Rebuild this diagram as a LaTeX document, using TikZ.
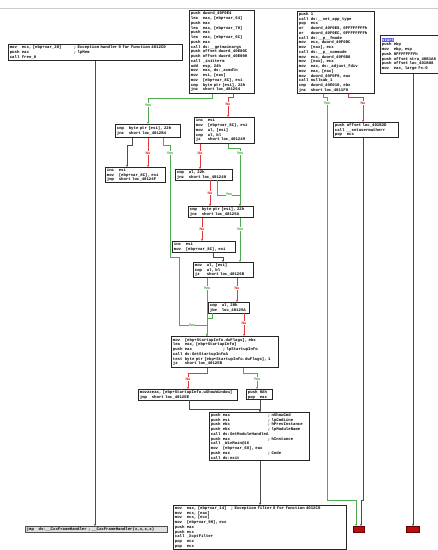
\documentclass[tikz,border=0pt]{standalone}
\usepackage{fontspec}
\setmonofont{Liberation Mono}
\setsansfont{Liberation Sans}
\usetikzlibrary{arrows.meta}
\definecolor{ygreen}{RGB}{80,170,80}
\definecolor{nred}{RGB}{228,55,55}
\definecolor{ygreenT}{RGB}{40,150,40}
\definecolor{nredT}{RGB}{220,25,25}
\definecolor{idablue}{RGB}{90,90,225}
\definecolor{extred}{RGB}{185,15,15}
\newcommand\asmi[2]{\makebox[12pt][l]{#1}#2}
\newcommand\asmk[4]{\makebox[12pt][l]{#1}\makebox[#3][l]{#2}; #4}
\tikzset{
  blk/.style={draw=black!85, line width=0.7pt, fill=white, anchor=north west,
    inner xsep=1.5pt, inner ysep=1pt, align=left,
    font=\ttfamily\bfseries\fontsize{4}{4.75}\selectfont},
  extbox/.style={draw=black!70, line width=0.5pt, fill=black!12, anchor=north west,
    inner xsep=1.5pt, inner ysep=0.5pt, align=left,
    font=\ttfamily\bfseries\fontsize{4}{4.75}\selectfont},
  redbox/.style={draw=black!60!red, line width=0.5pt, fill=extred, anchor=north west,
    inner sep=0pt},
  tip/.style={-{Stealth[length=2.2pt,width=2pt]}},
  gline/.style={draw=ygreen, line width=0.6pt, tip},
  rline/.style={draw=nred, line width=0.6pt, tip},
  kline/.style={draw=black!70, line width=0.6pt, tip},
  ylab/.style={font=\sffamily\bfseries\fontsize{3.6}{3.6}\selectfont, text=ygreenT, fill=white, inner sep=0.3pt},
  nlab/.style={font=\sffamily\bfseries\fontsize{3.6}{3.6}\selectfont, text=nredT, fill=white, inner sep=0.3pt},
}
\begin{document}
\begin{tikzpicture}[x=1pt,y=-1pt]
\useasboundingbox (0,0) rectangle (438,550);
\clip (0,0) rectangle (438,550);
\fill[white] (0,0) rectangle (438,550);
\draw[black!20, line width=0.6pt] (0,8) -- (438,8);

% blocks
\node[blk, text width=171pt, minimum height=16pt] (A) at (8,44) {%
\asmk{mov}{ecx, [ebp+var\_20]}{52pt}{Exception handler 0 for function 4012C0}\\
\asmk{push}{eax}{52pt}{lpMem}\\
\asmi{call}{free\_0}};

\node[blk, text width=62pt, minimum height=83pt] (B) at (189,10) {%
\asmi{push}{dword\_40F0E4}\\
\asmi{lea}{eax, [ebp+var\_64]}\\
\asmi{push}{eax}\\
\asmi{lea}{eax, [ebp+var\_70]}\\
\asmi{push}{eax}\\
\asmi{lea}{eax, [ebp+var\_6C]}\\
\asmi{push}{eax}\\
\asmi{call}{ds:\_\_getmainargs}\\
\asmi{push}{offset dword\_40E00C}\\
\asmi{push}{offset dword\_40E000}\\
\asmi{call}{\_initterm}\\
\asmi{add}{esp, 24h}\\
\asmi{mov}{eax, ds:\_acmdln}\\
\asmi{mov}{esi, [eax]}\\
\asmi{mov}{[ebp+var\_8C], esi}\\
\asmi{cmp}{byte ptr [esi], 22h}\\
\asmi{jnz}{short loc\_401264}};

\node[blk, text width=74pt, minimum height=82pt] (C) at (297,11) {%
\asmi{push}{1}\\
\asmi{call}{ds:\_\_set\_app\_type}\\
\asmi{pop}{ecx}\\
\asmi{or}{dword\_40F0E8, 0FFFFFFFFh}\\
\asmi{or}{dword\_40F0EC, 0FFFFFFFFh}\\
\asmi{call}{ds:\_\_p\_\_fmode}\\
\asmi{mov}{ecx, dword\_40F0DC}\\
\asmi{mov}{[eax], ecx}\\
\asmi{call}{ds:\_\_p\_\_commode}\\
\asmi{mov}{ecx, dword\_40F0D8}\\
\asmi{mov}{[eax], ecx}\\
\asmi{mov}{eax, ds:\_adjust\_fdiv}\\
\asmi{mov}{eax, [eax]}\\
\asmi{mov}{dword\_40F0F0, eax}\\
\asmi{call}{nullsub\_1}\\
\asmi{cmp}{dword\_40E010, ebx}\\
\asmi{jnz}{short loc\_4011F8}};

\node[blk, text width=62pt, minimum height=38pt] (D) at (380,35) {%
{\setlength{\fboxsep}{0.3pt}\colorbox{idablue}{\textcolor{white}{start}}}\\
\asmi{push}{ebp}\\
\asmi{mov}{ebp, esp}\\
\asmi{push}{0FFFFFFFFh}\\
\asmi{push}{offset stru\_40B1A8}\\
\asmi{push}{offset loc\_401B88}\\
\asmi{mov}{eax, large fs:0}};

\node[blk, text width=62pt, minimum height=15pt] (E) at (333,122) {%
\asmi{push}{offset loc\_401B2D}\\
\asmi{call}{\_\_setusermatherr}\\
\asmi{pop}{ecx}};

\node[blk, text width=62pt, minimum height=13pt] (F) at (115,124) {%
\asmi{cmp}{byte ptr [esi], 22h}\\
\asmi{jnz}{short loc\_4012B4}};

\node[blk, text width=57pt, minimum height=26pt] (G) at (194,117) {%
\asmi{inc}{esi}\\
\asmi{mov}{[ebp+var\_8C], esi}\\
\asmi{mov}{al, [esi]}\\
\asmi{cmp}{al, bl}\\
\asmi{jz}{short loc\_401249}};

\node[blk, text width=57pt, minimum height=15pt] (H) at (105,167) {%
\asmi{inc}{esi}\\
\asmi{mov}{[ebp+var\_8C], esi}\\
\asmi{jmp}{short loc\_40124F}};

\node[blk, text width=54pt, minimum height=10.5pt] (I1) at (175,169) {%
\asmi{cmp}{al, 22h}\\
\asmi{jnz}{short loc\_401240}};

\node[blk, text width=62pt, minimum height=11pt] (I2) at (188,206) {%
\asmi{cmp}{byte ptr [esi], 22h}\\
\asmi{jnz}{short loc\_40125A}};

\node[blk, text width=60pt, minimum height=11pt] (J1) at (172,241) {%
\asmi{inc}{esi}\\
\asmi{mov}{[ebp+var\_8C], esi}};

\node[blk, text width=57pt, minimum height=15pt] (J2) at (193,262) {%
\asmi{mov}{al, [esi]}\\
\asmi{cmp}{al, bl}\\
\asmi{jz}{short loc\_40126B}};

\node[blk, text width=38pt, minimum height=10.5pt] (J3) at (208,302) {%
\asmi{cmp}{al, 20h}\\
\asmi{jbe}{loc\_40125A}};

\node[blk, text width=104pt, minimum height=31pt] (K) at (171,336) {%
\asmi{mov}{[ebp+StartupInfo.dwFlags], ebx}\\
\asmi{lea}{eax, [ebp+StartupInfo]}\\
\asmk{push}{eax}{38pt}{lpStartupInfo}\\
\asmi{call}{ds:GetStartupInfoA}\\
\asmi{test}{byte ptr [ebp+StartupInfo.dwFlags], 1}\\
\asmi{jz}{short loc\_4012EB}};

\node[blk, text width=96pt, minimum height=10pt] (L1) at (138,389) {%
\asmi{movzx}{eax, [ebp+StartupInfo.wShowWindow]}\\
\asmi{jmp}{short loc\_4012EE}};

\node[blk, text width=23pt, minimum height=10pt] (L2) at (246,389) {%
\asmi{push}{0Ah}\\
\asmi{pop}{eax}};

\node[blk, text width=97pt, minimum height=48pt] (M) at (209,412) {%
\asmk{push}{eax}{45pt}{nShowCmd}\\
\asmk{push}{esi}{45pt}{lpCmdLine}\\
\asmk{push}{ebx}{45pt}{hPrevInstance}\\
\asmk{push}{ebx}{45pt}{lpModuleName}\\
\asmi{call}{ds:GetModuleHandleA}\\
\asmk{push}{eax}{45pt}{hInstance}\\
\asmi{call}{\_WinMain@16}\\
\asmi{mov}{[ebp+var\_68], eax}\\
\asmk{push}{eax}{45pt}{Code}\\
\asmi{call}{ds:exit}};

\node[blk, text width=170pt, minimum height=44pt] (N) at (173,505) {%
\asmk{mov}{eax, [ebp+var\_14]}{44pt}{Exception filter 0 for function 4012C0}\\
\asmi{mov}{ecx, [eax]}\\
\asmi{mov}{ecx, [ecx]}\\
\asmi{mov}{[ebp+var\_90], ecx}\\
\asmi{push}{eax}\\
\asmi{push}{ecx}\\
\asmi{call}{\_XcptFilter}\\
\asmi{pop}{ecx}\\
\asmi{pop}{ecx}};

\node[extbox, text width=139pt, minimum height=6pt] (P) at (25,526) {%
\asmi{jmp}{ds:\_\_CxxFrameHandler ; \_\_CxxFrameHandler(x,x,x,x)}};

\node[redbox, minimum width=11pt, minimum height=6pt] (R1) at (353,526) {};
\node[redbox, minimum width=13pt, minimum height=6pt] (R2) at (406,526) {};

\coordinate (c1) at (327,500);
\coordinate (c2) at (363,500);

% connectors
\draw[kline] ([xshift=87pt]A.south west) -| ([xshift=70pt]P.north west);
\draw[gline] ([xshift=23pt]B.south west) -- ++(0,5) -| ([xshift=33pt]F.north west);
\draw[rline] ([xshift=44pt]B.south west) -- ++(0,4) -| ([xshift=34pt]G.north west);
\draw[gline] ([xshift=26pt]C.south west) -- ++(0,4) -| (c1) -| ([xshift=3pt]R1.north west);
\draw[rline] ([xshift=51pt]C.south west) -- ++(0,4) -| ([xshift=30pt]E.north west);
\draw[kline] ([xshift=30pt]E.south west) -- (c2) -| ([xshift=8pt]R1.north west);
\draw[kline] ([xshift=33pt]D.south west) -| ([xshift=7pt]R2.north west);

\draw[kline] ([xshift=17pt]F.south west) -- ++(0,8) -| ([xshift=22pt]H.north west);
\draw[rline] ([xshift=33pt]F.south west) -| ([xshift=43pt]H.north west);
\draw[gline] ([xshift=48pt]F.south west) -- ++(0,8) -- ++(7,0) -- ++(0,112) -- ++(9,0) -- ++(0,68) -| ([xshift=36pt]K.north west);

\draw[rline] ([xshift=6pt]G.south west) -| ([xshift=25pt]I1.north west);
\draw[gline] ([xshift=34pt]G.south west) -- ++(0,5) -| ([xshift=52pt]I2.north west);
\draw[rline] ([xshift=35pt]I1.south west) -| ([xshift=22pt]I2.north west);
\draw[gline] ([xshift=42pt]I1.south west) -- ++(0,15) -| ([xshift=52pt]I2.north west);

\draw[rline] ([xshift=14pt]I2.south west) -| ([xshift=30pt]J1.north west);
\draw[gline] ([xshift=52pt]I2.south west) -| ([xshift=47pt]J2.north west);
\draw[kline] ([xshift=41pt]J1.south west) -- ++(0,5) -| ([xshift=30pt]J2.north west);

\draw[gline] ([xshift=14pt]J2.south west) -| ([xshift=36pt]K.north west);
\draw[rline] ([xshift=44pt]J2.south west) -| ([xshift=29pt]J3.north west);
\draw[rline] ([xshift=36pt]J3.south west) -| ([xshift=73pt]K.north west);
\draw[gline] ([xshift=4pt]J3.south west) -- ++(0,5) -| ([xshift=36pt]K.north west);

\draw[rline] ([xshift=36pt]K.south west) -- ++(0,6) -| ([xshift=50pt]L1.north west);
\draw[gline] ([xshift=72pt]K.south west) -- ++(0,6) -| ([xshift=11pt]L2.north west);
\draw[kline] ([xshift=51pt]L1.south west) -- ++(0,9) -| ([xshift=51pt]M.north west);
\draw[kline] ([xshift=14pt]L2.south west) -| ([xshift=51pt]M.north west);
\draw[kline] ([xshift=51pt]M.south west) -| ([xshift=87pt]N.north west);

% labels
\node[ylab] (y1) at (148,105) {Yes};
\node[nlab] (n1) at (228,104) {No};
\node[ylab] (y2) at (327,103) {Yes};
\node[nlab] (n2) at (363,103) {No};
\node[nlab] (n3) at (148,153) {No};
\node[ylab] (y3) at (170,153) {Yes};
\node[nlab] (n4) at (200,153) {No};
\node[ylab] (y4) at (240,153) {Yes};
\node[nlab] (n5) at (210,193) {No};
\node[ylab] (y5) at (229,194) {Yes};
\node[nlab] (n6) at (202,229) {No};
\node[ylab] (y6) at (240,229) {Yes};
\node[ylab] (y7) at (207,288) {Yes};
\node[nlab] (n7) at (237,288) {No};
\node[nlab] (n8) at (244,323) {No};
\node[ylab] (y8) at (192,325) {Yes};
\node[nlab] (n9) at (188,379) {No};
\node[ylab] (y9) at (257,379) {Yes};
\end{tikzpicture}
\end{document}
